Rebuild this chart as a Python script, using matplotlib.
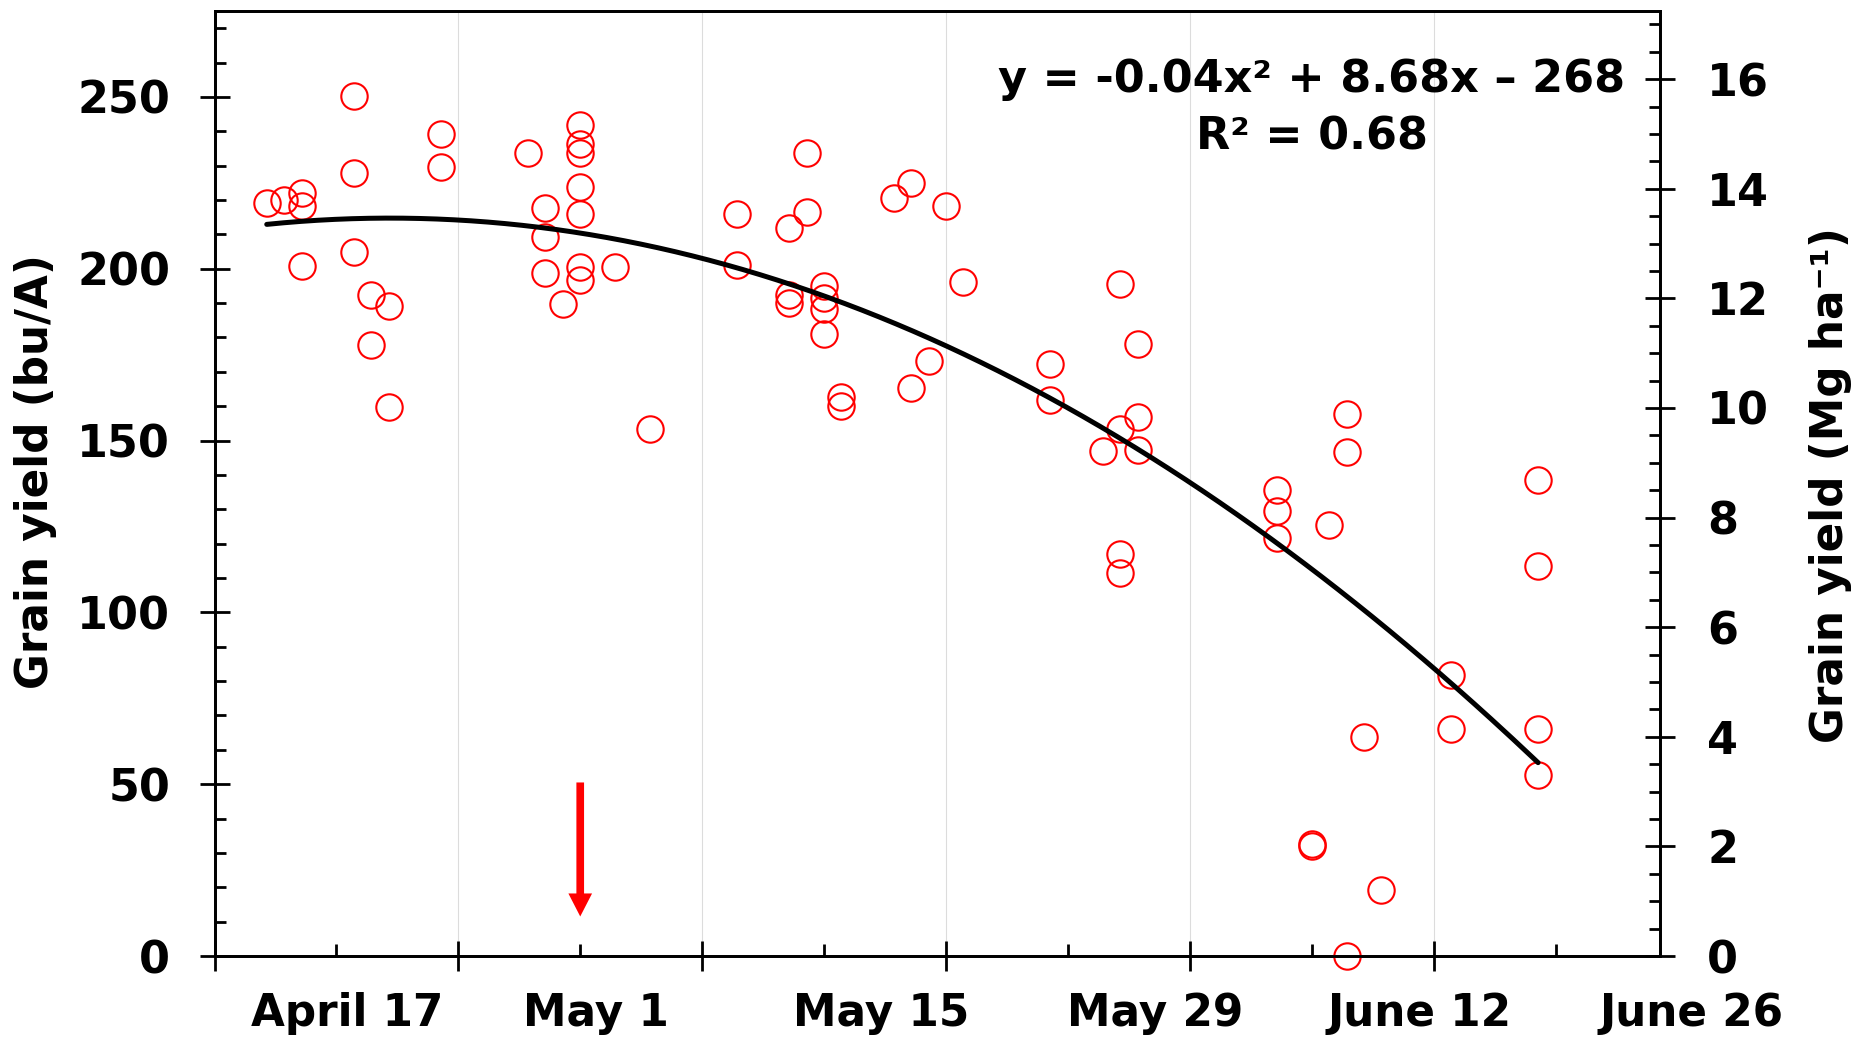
import numpy as np
import matplotlib
matplotlib.use("Agg")
import matplotlib.pyplot as plt
import matplotlib.transforms as mtransforms
from matplotlib.ticker import MultipleLocator

# Planting date, expressed as days after April 3
days = [3, 4, 5, 5, 5, 8, 8, 8, 9, 9, 10, 10, 13, 13, 18, 19, 19, 19, 20,
        21, 21, 21, 21, 21, 21, 21, 23, 25, 30, 30, 33, 33, 33, 34, 34,
        35, 35, 35, 35, 36, 36, 39, 40, 40, 41, 42, 43, 48, 48, 51,
        52, 52, 52, 52, 53, 53, 53, 61, 61, 61, 63, 63, 64, 65, 65, 65,
        66, 67, 71, 71, 76, 76, 76, 76]
# Grain yield, bu/A
yield_bu = [219.0, 220.0, 221.9, 218.2, 200.8, 250.4, 227.9, 204.9, 192.3, 177.7,
            189.2, 159.9, 239.1, 229.5, 233.8, 217.7, 209.2, 198.8, 189.6,
            241.9, 236.4, 233.7, 223.8, 216.0, 200.6, 196.6, 200.5, 153.3, 215.9, 201.0,
            211.9, 192.3, 190.1, 233.6, 216.4,
            194.9, 191.4, 188.4, 181.0, 162.7, 160.0, 220.7, 225.0, 165.4, 173.2, 218.3,
            196.1, 172.2, 161.7, 146.9,
            195.5, 153.5, 117.0, 111.5, 178.2, 156.8, 147.3, 135.6, 129.5, 121.7,
            31.9, 32.6, 125.3, 157.7, 146.7, 0.0,
            63.6, 19.3, 81.9, 66.0, 138.5, 113.5, 66.0, 52.6]

date_labels = ["April 17", "May 1", "May 15", "May 29", "June 12", "June 26"]
date_label_pos = [7.6, 21.9, 38.3, 54.0, 69.2, 84.8]

bu_to_mg = 0.0627
equation_text = "y = -0.04x\u00b2 + 8.68x \u2013 268"
r2_text = "R\u00b2 = 0.68"

arrow_day = 21
arrow_top = 50.5
arrow_tip = 11.5

plt.rcParams["font.family"] = ["DejaVu Sans"]
plt.rcParams["font.weight"] = "bold"

W, H = 1872, 1039
fig = plt.figure(figsize=(W / 100, H / 100), dpi=100)
ax = fig.add_axes([214.5 / W, 1 - 956 / H, (1660 - 214.5) / W, (956 - 11) / H])

ax.set_xlim(0, 83)
ax.set_ylim(0, 275)

# data
ax.plot(days, yield_bu, linestyle="none", marker="o", mfc="none", mec="red",
        ms=19, mew=1.5, zorder=3, clip_on=False)

coef = np.polyfit(days, yield_bu, 2)
xs = np.linspace(min(days), max(days), 300)
ax.plot(xs, np.polyval(coef, xs), color="black", lw=3.6,
        solid_capstyle="round", zorder=4)

# arrow
ax.arrow(arrow_day, arrow_top, 0, arrow_tip - arrow_top, width=0.44,
         head_width=1.36, head_length=6.7, length_includes_head=True,
         color="red", lw=0, zorder=5)

# axes styling
for s in ax.spines.values():
    s.set_linewidth(2)
ax.xaxis.set_major_locator(MultipleLocator(14))
ax.xaxis.set_minor_locator(MultipleLocator(7))
ax.yaxis.set_major_locator(MultipleLocator(50))
ax.yaxis.set_minor_locator(MultipleLocator(10))
ax.tick_params(axis="x", which="major", direction="inout", length=22, width=2,
               labelbottom=False)
ax.tick_params(axis="x", which="minor", direction="in", length=8.5, width=2)
ax.tick_params(axis="y", which="major", direction="inout", length=22, width=2,
               labelsize=32, pad=21)
ax.tick_params(axis="y", which="minor", direction="in", length=8, width=2)
ax.grid(axis="x", which="major", color="#dcdcdc", lw=0.8, zorder=0)
ax.set_axisbelow(True)

ax2 = ax.twinx()
ax2.set_ylim(0, 275 * bu_to_mg)
for s in ax2.spines.values():
    s.set_linewidth(2)
ax2.yaxis.set_major_locator(MultipleLocator(2))
ax2.yaxis.set_minor_locator(MultipleLocator(0.5))
ax2.tick_params(axis="y", which="major", direction="inout", length=22, width=2,
                labelsize=32, pad=23)
ax2.tick_params(axis="y", which="minor", direction="in", length=8, width=2)

# date labels
trans = mtransforms.blended_transform_factory(ax.transData, fig.transFigure)
for lab, pos in zip(date_labels, date_label_pos):
    ax.text(pos, 1 - 1026 / H, lab, transform=trans, ha="center", va="baseline",
            fontsize=31.5, fontweight="bold", clip_on=False)

# axis labels
fig.text(36 / W, 1 - 471.6 / H, "Grain yield (bu/A)", rotation=90,
         ha="center", va="center", fontsize=31.5, fontweight="bold")
fig.text(1830 / W, 1 - 484.7 / H, "Grain yield (Mg ha\u207b\u00b9)", rotation=90,
         ha="center", va="center", fontsize=31.5, fontweight="bold")

# equation
fig.text(1312 / W, 1 - 91.7 / H, equation_text, ha="center", va="baseline",
         fontsize=32, fontweight="bold")
fig.text(1312 / W, 1 - 150 / H, r2_text, ha="center", va="baseline",
         fontsize=32, fontweight="bold")

fig.savefig("out.png", dpi=100)
